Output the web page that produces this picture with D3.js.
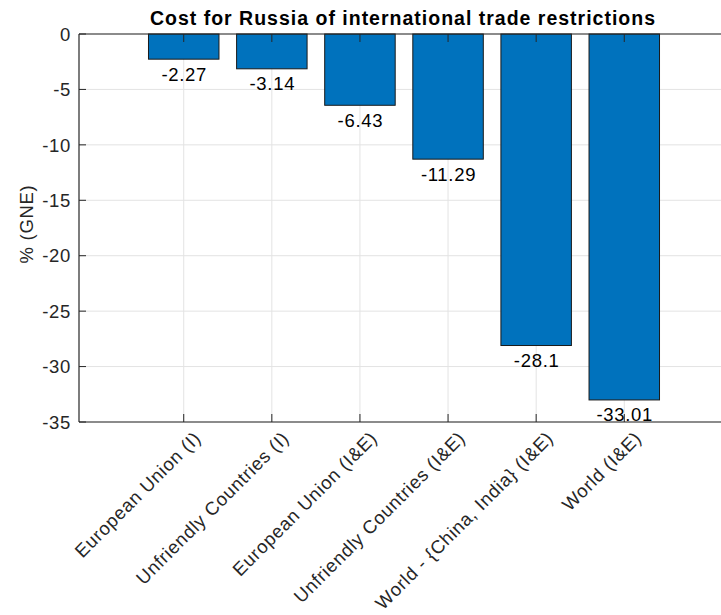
<!DOCTYPE html>
<html>
<head>
<meta charset="utf-8">
<script src="https://cdn.jsdelivr.net/npm/d3@7"></script>
<style>
  html, body { margin: 0; padding: 0; background: #fff; }
  svg { display: block; }
  text { font-family: "Liberation Sans", Arial, Helvetica, sans-serif; }
</style>
</head>
<body>
<svg id="chart" width="721" height="615"></svg>
<script>
const categories = [
  "European Union (I)",
  "Unfriendly Countries (I)",
  "European Union (I&E)",
  "Unfriendly Countries (I&E)",
  "World - {China, India} (I&E)",
  "World (I&E)"
];
const values = [-2.27, -3.14, -6.43, -11.29, -28.1, -33.01];
const valueLabels = ["-2.27", "-3.14", "-6.43", "-11.29", "-28.1", "-33.01"];
const yTicks = [0, -5, -10, -15, -20, -25, -30, -35];
const title = "Cost for Russia of international trade restrictions";
const yLabel = "% (GNE)";

(function () {
const svg = d3.select("#chart");
const pL = 79, pR = 730, pT = 34, pB = 422;

const x = d3.scaleLinear().domain([-0.2, 7.2]).range([pL - 1, pR]);
const y = d3.scaleLinear().domain([-35, 0]).range([pB, pT]);
const barW = 0.8;

const axisColor = "#262626";
const gridColor = "#e3e3e3";
const fs = 18.5;
const ls = "0.7px";

const g = svg.append("g");
g.selectAll("line.hgrid").data(yTicks).enter().append("line")
  .attr("x1", pL).attr("x2", 721)
  .attr("y1", d => y(d)).attr("y2", d => y(d))
  .attr("stroke", gridColor).attr("stroke-width", 1);
g.selectAll("line.vgrid").data(categories).enter().append("line")
  .attr("x1", (d, i) => x(i + 1)).attr("x2", (d, i) => x(i + 1))
  .attr("y1", pT).attr("y2", pB)
  .attr("stroke", gridColor).attr("stroke-width", 1);

g.selectAll("rect.bar").data(values).enter().append("rect")
  .attr("x", (d, i) => x(i + 1 - barW / 2))
  .attr("width", (d, i) => x(i + 1 + barW / 2) - x(i + 1 - barW / 2))
  .attr("y", d => y(0))
  .attr("height", d => y(d) - y(0))
  .attr("fill", "#0072BD")
  .attr("stroke", "#1a1a1a")
  .attr("stroke-width", 1);

g.append("line").attr("x1", pL).attr("x2", pL).attr("y1", pT).attr("y2", pB)
  .attr("stroke", axisColor).attr("stroke-width", 1.2);
g.append("line").attr("x1", pL).attr("x2", 721).attr("y1", pT).attr("y2", pT)
  .attr("stroke", axisColor).attr("stroke-width", 1.2);
g.append("line").attr("x1", pL).attr("x2", 721).attr("y1", pB).attr("y2", pB)
  .attr("stroke", axisColor).attr("stroke-width", 1.2);

g.selectAll("line.yt").data(yTicks).enter().append("line")
  .attr("x1", pL).attr("x2", pL + 7)
  .attr("y1", d => y(d)).attr("y2", d => y(d))
  .attr("stroke", axisColor).attr("stroke-width", 1);
g.selectAll("text.yt").data(yTicks).enter().append("text")
  .attr("x", pL - 8).attr("y", d => y(d))
  .attr("dy", "0.36em")
  .attr("text-anchor", "end")
  .attr("font-size", fs).attr("letter-spacing", ls).attr("fill", axisColor)
  .text(d => String(d));

g.selectAll("line.xtb").data(categories).enter().append("line")
  .attr("x1", (d, i) => x(i + 1)).attr("x2", (d, i) => x(i + 1))
  .attr("y1", pB).attr("y2", pB - 8)
  .attr("stroke", axisColor).attr("stroke-width", 1);
g.selectAll("line.xtt").data(categories).enter().append("line")
  .attr("x1", (d, i) => x(i + 1)).attr("x2", (d, i) => x(i + 1))
  .attr("y1", pT).attr("y2", pT + 8)
  .attr("stroke", axisColor).attr("stroke-width", 1);

g.selectAll("text.xl").data(categories).enter().append("text")
  .attr("transform", (d, i) => `translate(${x(i + 1) + 9},${pB + 8}) rotate(-45)`)
  .attr("text-anchor", "end")
  .attr("dy", "0.71em")
  .attr("font-size", fs).attr("letter-spacing", ls).attr("fill", axisColor)
  .text(d => d);

g.selectAll("text.vl").data(values).enter().append("text")
  .attr("x", (d, i) => x(i + 1) + 0.5)
  .attr("y", d => y(d) + 21.5)
  .attr("text-anchor", "middle")
  .attr("font-size", fs).attr("letter-spacing", ls).attr("fill", "#000")
  .text((d, i) => valueLabels[i]);

svg.append("text")
  .attr("x", 403).attr("y", 25)
  .attr("text-anchor", "middle")
  .attr("font-size", 19.5).attr("letter-spacing", "1px").attr("font-weight", "bold").attr("fill", "#000")
  .text(title);

svg.append("text")
  .attr("transform", `translate(33,224) rotate(-90)`)
  .attr("text-anchor", "middle")
  .attr("font-size", fs).attr("letter-spacing", ls).attr("fill", axisColor)
  .text(yLabel);
})();
</script>
</body>
</html>
